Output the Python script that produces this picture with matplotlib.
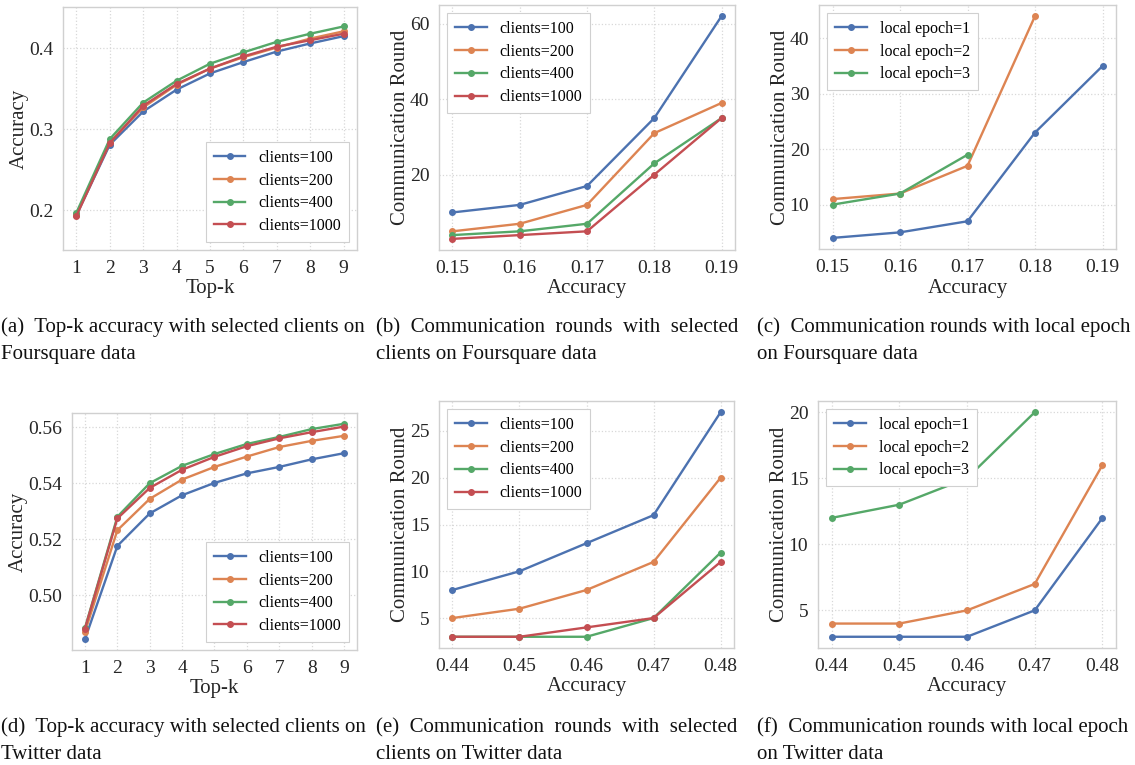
import matplotlib
matplotlib.use("Agg")
import matplotlib.pyplot as plt

# ---- data ----
topk = [1, 2, 3, 4, 5, 6, 7, 8, 9]
client_labels = ["clients=100", "clients=200", "clients=400", "clients=1000"]
epoch_labels = ["local epoch=1", "local epoch=2", "local epoch=3"]

# (a) Foursquare top-k accuracy
fs_topk_100 = [0.194, 0.281, 0.322, 0.349, 0.369, 0.383, 0.396, 0.406, 0.415]
fs_topk_200 = [0.195, 0.284, 0.327, 0.355, 0.375, 0.389, 0.401, 0.412, 0.421]
fs_topk_400 = [0.197, 0.288, 0.333, 0.360, 0.381, 0.395, 0.408, 0.418, 0.427]
fs_topk_1000 = [0.193, 0.283, 0.329, 0.356, 0.375, 0.390, 0.402, 0.410, 0.418]

# (b) Foursquare rounds vs clients
fs_acc = [0.15, 0.16, 0.17, 0.18, 0.19]
fs_rounds_100 = [10, 12, 17, 35, 62]
fs_rounds_200 = [5, 7, 12, 31, 39]
fs_rounds_400 = [4, 5, 7, 23, 35]
fs_rounds_1000 = [3, 4, 5, 20, 35]

# (c) Foursquare rounds vs local epoch
fs_epoch_1 = [4, 5, 7, 23, 35]
fs_epoch_2 = [11, 12, 17, 44]
fs_epoch_3 = [10, 12, 19]

# (d) Twitter top-k accuracy
tw_topk_100 = [0.4843, 0.5176, 0.5292, 0.5357, 0.5401, 0.5435, 0.5458, 0.5485, 0.5507]
tw_topk_200 = [0.4869, 0.5232, 0.5344, 0.5413, 0.5458, 0.5495, 0.5529, 0.5551, 0.5569]
tw_topk_400 = [0.4883, 0.5280, 0.5400, 0.5462, 0.5504, 0.5540, 0.5565, 0.5593, 0.5612]
tw_topk_1000 = [0.4881, 0.5274, 0.5383, 0.5448, 0.5494, 0.5532, 0.5560, 0.5582, 0.5602]

# (e) Twitter rounds vs clients
tw_acc = [0.44, 0.45, 0.46, 0.47, 0.48]
tw_rounds_100 = [8, 10, 13, 16, 27]
tw_rounds_200 = [5, 6, 8, 11, 20]
tw_rounds_400 = [3, 3, 3, 5, 12]
tw_rounds_1000 = [3, 3, 4, 5, 11]

# (f) Twitter rounds vs local epoch
tw_epoch_1 = [3, 3, 3, 5, 12]
tw_epoch_2 = [4, 4, 5, 7, 16]
tw_epoch_3 = [12, 13, 15, 20]

colors = ["#4C72B0", "#DD8452", "#55A868", "#C44E52"]

plt.rcParams['font.family'] = ['Liberation Serif', 'DejaVu Serif']

W, H = 1135, 765
fig = plt.figure(figsize=(W / 100, H / 100), dpi=100)


def make_axes(l, t, r, b):
    return fig.add_axes([l / W, 1 - b / H, (r - l) / W, (b - t) / H])


def style(ax, xlabel, ylabel):
    ax.grid(True, linestyle=':', color='#d8d8d8', linewidth=0.9)
    ax.set_axisbelow(True)
    for s in ax.spines.values():
        s.set_color('#d0d0d0')
        s.set_linewidth(1.0)
    ax.tick_params(length=0, pad=7, labelsize=14, colors='#262626')
    ax.set_xlabel(xlabel, fontsize=15, color='#262626', labelpad=2)
    ax.set_ylabel(ylabel, fontsize=15, color='#262626', labelpad=0)


def draw(ax, xs, series, labels, loc):
    for ys, lab, c in zip(series, labels, colors):
        ax.plot(xs[:len(ys)], ys, color=c, marker='o', markersize=4,
                linewidth=1.7, label=lab)
    leg = ax.legend(loc=loc, fontsize=11.5, handlelength=2.0, handletextpad=0.8,
                    borderpad=0.5, labelspacing=0.42, fancybox=False,
                    edgecolor='#d0d0d0', framealpha=1.0)
    leg.get_frame().set_linewidth(0.8)


# (a)
ax = make_axes(63, 7, 357, 250)
draw(ax, topk, [fs_topk_100, fs_topk_200, fs_topk_400, fs_topk_1000], client_labels, 'lower right')
ax.set_ylim(0.151, 0.451)
ax.set_yticks([0.2, 0.3, 0.4])
ax.set_xticks(topk)
style(ax, "Top-k", "Accuracy")

# (b)
ax = make_axes(439, 5, 735, 250)
draw(ax, fs_acc, [fs_rounds_100, fs_rounds_200, fs_rounds_400, fs_rounds_1000], client_labels, 'upper left')
ax.set_xticks(fs_acc)
ax.set_yticks([20, 40, 60])
style(ax, "Accuracy", "Communication Round")

# (c)
ax = make_axes(819, 5, 1116, 249)
draw(ax, fs_acc, [fs_epoch_1, fs_epoch_2, fs_epoch_3], epoch_labels, 'upper left')
ax.set_xticks(fs_acc)
ax.set_yticks([10, 20, 30, 40])
style(ax, "Accuracy", "Communication Round")

# (d)
ax = make_axes(72, 413, 357, 650)
draw(ax, topk, [tw_topk_100, tw_topk_200, tw_topk_400, tw_topk_1000], client_labels, 'lower right')
ax.set_xticks(topk)
ax.set_yticks([0.50, 0.52, 0.54, 0.56])
ax.set_yticklabels(["0.50", "0.52", "0.54", "0.56"])
style(ax, "Top-k", "Accuracy")

# (e)
ax = make_axes(439, 401, 734, 648)
draw(ax, tw_acc, [tw_rounds_100, tw_rounds_200, tw_rounds_400, tw_rounds_1000], client_labels, 'upper left')
ax.set_xticks(tw_acc)
ax.set_yticks([5, 10, 15, 20, 25])
style(ax, "Accuracy", "Communication Round")

# (f)
ax = make_axes(818, 401, 1116, 648)
draw(ax, tw_acc, [tw_epoch_1, tw_epoch_2, tw_epoch_3], epoch_labels, 'upper left')
ax.set_xticks(tw_acc)
ax.set_yticks([5, 10, 15, 20])
style(ax, "Accuracy", "Communication Round")

# captions
captions = [
    (1, 332, "(a)  Top-k accuracy with selected clients on"),
    (1, 359, "Foursquare data"),
    (376, 332, "(b)  Communication  rounds  with  selected"),
    (376, 359, "clients on Foursquare data"),
    (757, 332, "(c)  Communication rounds with local epoch"),
    (757, 359, "on Foursquare data"),
    (1, 732, "(d)  Top-k accuracy with selected clients on"),
    (1, 759, "Twitter data"),
    (376, 732, "(e)  Communication  rounds  with  selected"),
    (376, 759, "clients on Twitter data"),
    (757, 732, "(f)  Communication rounds with local epoch"),
    (757, 759, "on Twitter data"),
]
for x, y, s in captions:
    fig.text(x / W, 1 - y / H, s, fontsize=15, ha='left', va='baseline', color='#111111')

fig.savefig("out.png", dpi=100)
